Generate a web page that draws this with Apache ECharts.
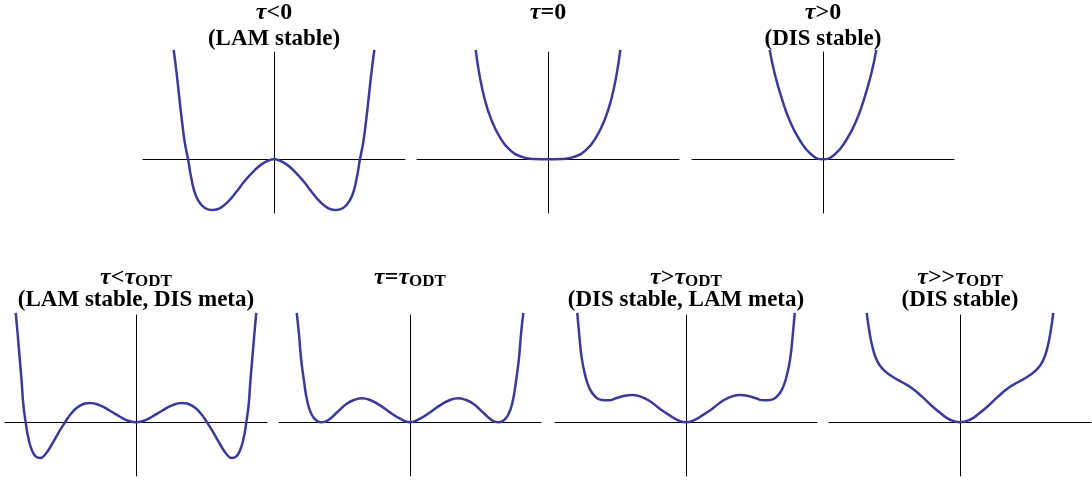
<!DOCTYPE html>
<html>
<head>
<meta charset="utf-8">
<script src="https://cdn.jsdelivr.net/npm/echarts@6/dist/echarts.min.js"></script>
<style>
  html, body { margin: 0; padding: 0; background: #ffffff; }
  #chart { width: 1092px; height: 481px; }
</style>
</head>
<body>
<div id="chart"></div>
<script>
// Free-energy curves F(psi) for the seven temperature regimes.
// Each curve: list of [order parameter, free energy] points.
const tauNeg = [
  [-0.766, 1.019], [-0.745, 0.820], [-0.725, 0.599], [-0.705, 0.382], [-0.682, 0.164],
  [-0.656, 0], [-0.631, -0.177], [-0.598, -0.333], [-0.554, -0.426], [-0.504, -0.466],
  [-0.466, -0.472], [-0.415, -0.457], [-0.351, -0.395], [-0.287, -0.302], [-0.224, -0.202],
  [-0.160, -0.116], [-0.096, -0.047], [-0.046, -0.013], [0, 0],
  [0.046, -0.013], [0.096, -0.047], [0.160, -0.116], [0.224, -0.202], [0.287, -0.302],
  [0.351, -0.395], [0.415, -0.457], [0.466, -0.472], [0.504, -0.466], [0.554, -0.426],
  [0.598, -0.333], [0.631, -0.177], [0.656, 0], [0.682, 0.164], [0.705, 0.382],
  [0.725, 0.599], [0.745, 0.820], [0.766, 1.019]
];
const tauZero = [
  [-0.552, 1.02], [-0.522, 0.78], [-0.483, 0.56], [-0.433, 0.37], [-0.369, 0.21],
  [-0.293, 0.09], [-0.204, 0.025], [-0.102, 0.003], [0, 0],
  [0.102, 0.003], [0.204, 0.025], [0.293, 0.09], [0.369, 0.21],
  [0.433, 0.37], [0.483, 0.56], [0.522, 0.78], [0.552, 1.02]
];
const tauPos = [
  [-0.407, 1.02], [-0.369, 0.8], [-0.318, 0.58], [-0.254, 0.36], [-0.178, 0.18],
  [-0.089, 0.045], [0, 0],
  [0.089, 0.045], [0.178, 0.18], [0.254, 0.36], [0.318, 0.58], [0.369, 0.8], [0.407, 1.02]
];
const tauBelowOdt = [
  [-0.918, 1.019], [-0.903, 0.816], [-0.888, 0.599], [-0.873, 0.382], [-0.860, 0.164],
  [-0.842, 0], [-0.822, -0.146], [-0.796, -0.255], [-0.766, -0.317], [-0.733, -0.333],
  [-0.695, -0.302], [-0.644, -0.209], [-0.593, -0.100], [-0.542, 0], [-0.491, 0.087],
  [-0.427, 0.155], [-0.351, 0.180], [-0.275, 0.158], [-0.198, 0.108], [-0.122, 0.052],
  [-0.059, 0.015], [0, 0],
  [0.059, 0.015], [0.122, 0.052], [0.198, 0.108], [0.275, 0.158], [0.351, 0.180],
  [0.427, 0.155], [0.491, 0.087], [0.542, 0], [0.593, -0.100], [0.644, -0.209],
  [0.695, -0.302], [0.733, -0.333], [0.766, -0.317], [0.796, -0.255], [0.822, -0.146],
  [0.842, 0], [0.860, 0.164], [0.873, 0.382], [0.888, 0.599], [0.903, 0.816], [0.918, 1.019]
];
const tauAtOdt = [
  [-0.865, 1.019], [-0.847, 0.816], [-0.832, 0.599], [-0.809, 0.382], [-0.784, 0.196],
  [-0.750, 0.071], [-0.712, 0.015], [-0.674, 0], [-0.624, 0.021], [-0.560, 0.089],
  [-0.483, 0.173], [-0.420, 0.211], [-0.369, 0.224], [-0.305, 0.208], [-0.229, 0.158],
  [-0.153, 0.093], [-0.076, 0.034], [0, 0],
  [0.076, 0.034], [0.153, 0.093], [0.229, 0.158], [0.305, 0.208], [0.369, 0.224],
  [0.420, 0.211], [0.483, 0.173], [0.560, 0.089], [0.624, 0.021], [0.674, 0],
  [0.712, 0.015], [0.750, 0.071], [0.784, 0.196], [0.809, 0.382], [0.832, 0.599],
  [0.847, 0.816], [0.865, 1.019]
];
const tauAboveOdt = [
  [-0.830, 1.019], [-0.815, 0.816], [-0.796, 0.599], [-0.771, 0.444], [-0.738, 0.320],
  [-0.695, 0.242], [-0.644, 0.208], [-0.593, 0.205], [-0.529, 0.226], [-0.466, 0.248],
  [-0.415, 0.254], [-0.351, 0.242], [-0.275, 0.196], [-0.198, 0.124], [-0.122, 0.062],
  [-0.059, 0.019], [0, 0],
  [0.059, 0.019], [0.122, 0.062], [0.198, 0.124], [0.275, 0.196], [0.351, 0.242],
  [0.415, 0.254], [0.466, 0.248], [0.529, 0.226], [0.593, 0.205], [0.644, 0.208],
  [0.695, 0.242], [0.738, 0.320], [0.771, 0.444], [0.796, 0.599], [0.815, 0.816],
  [0.830, 1.019]
];
const tauFarAboveOdt = [
  [-0.712, 1.019], [-0.692, 0.848], [-0.666, 0.692], [-0.631, 0.568], [-0.585, 0.490],
  [-0.521, 0.429], [-0.445, 0.376], [-0.369, 0.320], [-0.292, 0.242], [-0.216, 0.155],
  [-0.140, 0.077], [-0.076, 0.024], [0, 0],
  [0.076, 0.024], [0.140, 0.077], [0.216, 0.155], [0.292, 0.242], [0.369, 0.320],
  [0.445, 0.376], [0.521, 0.429], [0.585, 0.490], [0.631, 0.568], [0.666, 0.692],
  [0.692, 0.848], [0.712, 1.019]
];

// Panel headings: first line (with tau symbols) and optional second line
const headLine1 = [
  '{t|τ}{n|<0}', '{t|τ}{n|=0}', '{t|τ}{n|>0}',
  '{t|τ}{n|<}{t|τ}{s|ODT}', '{t|τ}{n|=}{t|τ}{s|ODT}',
  '{t|τ}{n|>}{t|τ}{s|ODT}', '{t|τ}{n|>>}{t|τ}{s|ODT}'
];
const headLine2 = [
  '(LAM stable)', '', '(DIS stable)',
  '(LAM stable, DIS meta)', '', '(DIS stable, LAM meta)', '(DIS stable)'
];

const curves = [tauNeg, tauZero, tauPos, tauBelowOdt, tauAtOdt, tauAboveOdt, tauFarAboveOdt];

// panel boxes (px): left, top
const boxes = [
  [143, 52], [417, 52], [692, 52],
  [5, 315], [279, 315], [555, 315], [829, 315]
];
const BOX_W = 262, BOX_H = 161;

const curveColor = '#3b3a98';
const serif = '"Liberation Serif", "DejaVu Serif", serif';

const grids = [], xAxes = [], yAxes = [], series = [], graphics = [];
boxes.forEach((b, i) => {
  grids.push({ left: b[0], top: b[1], width: BOX_W, height: BOX_H });
  xAxes.push({
    gridIndex: i, type: 'value', min: -1, max: 1,
    axisLine: { onZero: true, lineStyle: { color: '#000', width: 1 } },
    axisTick: { show: false }, axisLabel: { show: false }, splitLine: { show: false }
  });
  yAxes.push({
    gridIndex: i, type: 'value', min: -0.5, max: 1,
    axisLine: { onZero: true, lineStyle: { color: '#000', width: 1 } },
    axisTick: { show: false }, axisLabel: { show: false }, splitLine: { show: false }
  });
  series.push({
    type: 'line', xAxisIndex: i, yAxisIndex: i, data: curves[i],
    smooth: 0.5, showSymbol: false, clip: false, silent: true,
    lineStyle: { color: curveColor, width: 2.5 }
  });

  const cx = b[0] + BOX_W / 2;
  const twoLines = headLine2[i] !== '';
  const y1 = i < 3 ? 13 : 278;
  const y2 = i < 3 ? 39 : 300;
  const rich = {
    t: { fontFamily: serif, fontSize: 24, fontStyle: 'italic', fontWeight: 'bold', fill: '#000', lineHeight: 24 },
    n: { fontFamily: serif, fontSize: 24, fontWeight: 'bold', fill: '#000', lineHeight: 24 },
    s: { fontFamily: serif, fontSize: 17, fontWeight: 'bold', fill: '#000', lineHeight: 16, verticalAlign: 'bottom' }
  };
  graphics.push({
    type: 'text', x: cx, y: y1,
    style: { text: headLine1[i], rich: rich, textAlign: 'center', textVerticalAlign: 'middle' }
  });
  if (twoLines) {
    graphics.push({
      type: 'text', x: cx, y: y2,
      style: {
        text: headLine2[i], fontFamily: serif, fontSize: 23, fontWeight: 'bold', fill: '#000',
        textAlign: 'center', textVerticalAlign: 'middle'
      }
    });
  }
});

const chart = echarts.init(document.getElementById('chart'), null, { renderer: 'canvas' });
chart.setOption({
  animation: false,
  backgroundColor: '#ffffff',
  grid: grids,
  xAxis: xAxes,
  yAxis: yAxes,
  series: series,
  graphic: graphics
});
</script>
</body>
</html>
